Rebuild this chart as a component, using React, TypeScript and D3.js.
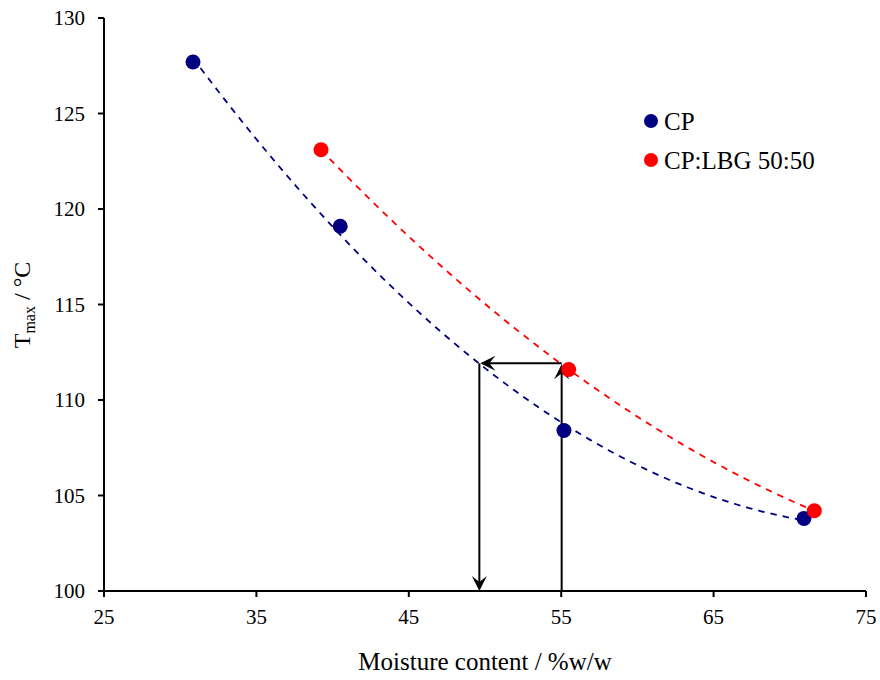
import React from "react";
import * as d3 from "d3";

// moisture content (%w/w) and Tmax (°C)
const cpMoisture = [30.84, 40.5, 55.18, 70.93];
const cpTmax = [127.7, 119.1, 108.4, 103.8];
const lbgMoisture = [39.24, 55.49, 71.61];
const lbgTmax = [123.1, 111.6, 104.2];

// read-off guide: from CP:LBG point down to CP curve
const guideFromX = 55.03;
const guideToX = 49.63;
const guideY = 111.92;

const xTicks = [25, 35, 45, 55, 65, 75];
const yTicks = [100, 105, 110, 115, 120, 125, 130];

const width = 880;
const height = 680;

// least squares quadratic fit (Excel style polynomial trendline)
function quadFit(xs: number[], ys: number[]) {
  const s = [0, 0, 0, 0, 0];
  const t = [0, 0, 0];
  xs.forEach((x, i) => {
    for (let k = 0; k < 5; k++) s[k] += Math.pow(x, k);
    for (let k = 0; k < 3; k++) t[k] += ys[i] * Math.pow(x, k);
  });
  const m = [
    [s[0], s[1], s[2], t[0]],
    [s[1], s[2], s[3], t[1]],
    [s[2], s[3], s[4], t[2]],
  ];
  for (let c = 0; c < 3; c++) {
    for (let r = c + 1; r < 3; r++) {
      const f = m[r][c] / m[c][c];
      for (let k = c; k < 4; k++) m[r][k] -= f * m[c][k];
    }
  }
  const a = [0, 0, 0];
  for (let r = 2; r >= 0; r--) {
    let v = m[r][3];
    for (let k = r + 1; k < 3; k++) v -= m[r][k] * a[k];
    a[r] = v / m[r][r];
  }
  return (x: number) => a[0] + a[1] * x + a[2] * x * x;
}

function arrowHead(tx: number, ty: number, dx: number, dy: number) {
  // tip at (tx,ty), pointing in direction (dx,dy)
  const len = 15;
  const half = 7.5;
  const notch = 9;
  const px = -dy;
  const py = dx;
  const bx = tx - dx * len;
  const by = ty - dy * len;
  const nx = tx - dx * notch;
  const ny = ty - dy * notch;
  return `M${tx},${ty}L${bx + px * half},${by + py * half}L${nx},${ny}L${bx - px * half},${by - py * half}Z`;
}

const font = "Liberation Serif, Times New Roman, serif";

export default function App() {
  const x = d3.scaleLinear().domain([25, 75]).range([104, 866]);
  const y = d3.scaleLinear().domain([100, 130]).range([591, 18]);

  const line = d3
    .line<number[]>()
    .x((d) => x(d[0]))
    .y((d) => y(d[1]));

  const trend = (xs: number[], ys: number[]) => {
    const f = quadFit(xs, ys);
    const lo = d3.min(xs)!;
    const hi = d3.max(xs)!;
    const pts = d3.range(0, 101).map((i) => {
      const v = lo + ((hi - lo) * i) / 100;
      return [v, f(v)];
    });
    return line(pts) || "";
  };

  const x1 = x(guideFromX);
  const x2 = x(guideToX);
  const gy = y(guideY);
  const y0 = y(100);

  return (
    <div style={{ position: "absolute", left: 0, top: 0 }}>
      <svg width={width} height={height} fontFamily={font}>
        <rect width={width} height={height} fill="#fff" />

        {/* trendlines */}
        <path d={trend(cpMoisture, cpTmax)} fill="none" stroke="#000080" strokeWidth={1.8} strokeDasharray="6.5,6" />
        <path d={trend(lbgMoisture, lbgTmax)} fill="none" stroke="#ff0000" strokeWidth={1.8} strokeDasharray="6.5,6" />

        {/* guide arrows */}
        <g stroke="#000" strokeWidth={2} fill="none">
          <line x1={x1} y1={y0} x2={x1} y2={gy + 3} />
          <line x1={x1} y1={gy} x2={x2 + 3} y2={gy} />
          <line x1={x2} y1={gy} x2={x2} y2={y0 - 3} />
        </g>
        <g fill="#000">
          <path d={arrowHead(x1, gy + 1, 0, -1)} />
          <path d={arrowHead(x2 + 1, gy, -1, 0)} />
          <path d={arrowHead(x2, y0, 0, 1)} />
        </g>

        {/* axes */}
        <g stroke="#000" strokeWidth={2}>
          <line x1={x(25)} y1={y(130)} x2={x(25)} y2={y(100)} />
          <line x1={x(25)} y1={y(100)} x2={x(75)} y2={y(100)} />
          {yTicks.map((t) => (
            <line key={"yt" + t} x1={x(25) - 6} x2={x(25)} y1={y(t)} y2={y(t)} />
          ))}
          {xTicks.map((t) => (
            <line key={"xt" + t} x1={x(t)} x2={x(t)} y1={y(100)} y2={y(100) + 6} />
          ))}
        </g>
        {yTicks.map((t) => (
          <text key={"yl" + t} x={x(25) - 19} y={y(t) + 7} textAnchor="end" fontSize={21} fontFamily={font}>
            {t}
          </text>
        ))}
        {xTicks.map((t) => (
          <text key={"xl" + t} x={x(t)} y={y(100) + 33} textAnchor="middle" fontSize={21} fontFamily={font}>
            {t}
          </text>
        ))}

        {/* points */}
        {cpMoisture.map((m, i) => (
          <circle key={"cp" + i} cx={x(m)} cy={y(cpTmax[i])} r={7.5} fill="#000080" />
        ))}
        {lbgMoisture.map((m, i) => (
          <circle key={"lbg" + i} cx={x(m)} cy={y(lbgTmax[i])} r={7.5} fill="#ff0000" />
        ))}

        {/* legend */}
        <circle cx={651} cy={121} r={7} fill="#000080" />
        <text x={664} y={130} fontSize={25}>CP</text>
        <circle cx={651} cy={160} r={7} fill="#ff0000" />
        <text x={664} y={169} fontSize={25}>CP:LBG 50:50</text>

        {/* axis titles */}
        <text x={485} y={670} textAnchor="middle" fontSize={25}>
          Moisture content / %w/w
        </text>
        <text transform="translate(30,305) rotate(-90)" textAnchor="middle" fontSize={24}>
          T<tspan fontSize={16} dy={5}>max</tspan>
          <tspan dy={-5}> / °C</tspan>
        </text>
      </svg>
    </div>
  );
}
